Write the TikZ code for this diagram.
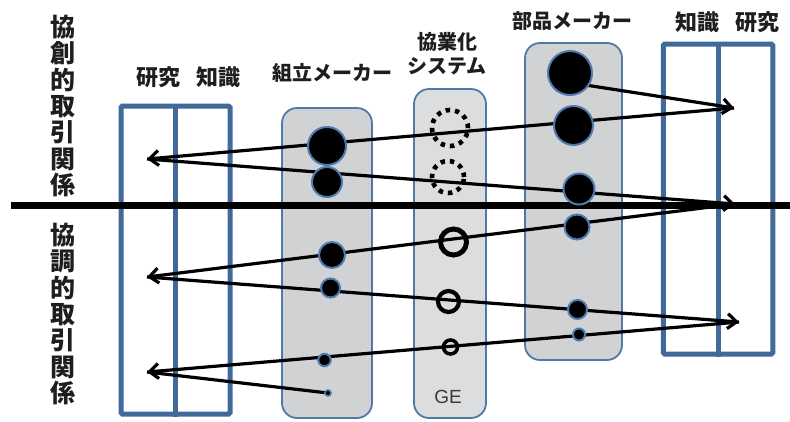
\documentclass[tikz,border=0pt]{standalone}
\usepackage{fontspec}
\newfontfamily\jp{Noto Sans CJK JP}
\setsansfont{Liberation Sans}
\usetikzlibrary{arrows.meta,calc}

\definecolor{frameblue}{HTML}{41699A}
\definecolor{panelblue}{HTML}{5079A8}
\definecolor{ringblue}{HTML}{4F7BAE}
\definecolor{panelgray}{HTML}{D1D2D4}
\definecolor{gepanel}{HTML}{DCDDDF}
\definecolor{inkdark}{HTML}{1E1E1E}
\definecolor{gegray}{HTML}{3A3A3A}

\pgfdeclarelayer{panels}
\pgfdeclarelayer{links}
\pgfsetlayers{panels,links,main}

\begin{document}
\begin{tikzpicture}[x=1pt,y=-1pt,
  framebox/.style={rectangle, draw=frameblue, line width=5pt, rounded corners=1.5pt, inner sep=0pt},
  divider/.style={draw=frameblue, line width=5pt},
  panel/.style={rectangle, draw=panelblue, line width=1.8pt, fill=panelgray, rounded corners=15pt, inner sep=0pt},
  blob/.style={circle, fill=black, draw=ringblue, line width=2pt, inner sep=0pt},
  ring/.style={circle, draw=black, inner sep=0pt},
  dashring/.style={circle, draw=black, line width=4.6pt, dash pattern=on 4.4pt off 5pt, inner sep=0pt},
  link/.style={draw=black, line width=3.2pt, -{Straight Barb[length=9pt,width=15pt]}},
  plainlink/.style={draw=black, line width=3.2pt},
  head/.style={text=inkdark, inner sep=0pt, font=\jp\bfseries\fontsize{20}{24}\selectfont},
  colhead/.style={text=inkdark, inner sep=0pt, font=\jp\bfseries\fontsize{22}{24}\selectfont},
  sidetext/.style={text=inkdark, inner sep=0pt, align=center, font=\jp\bfseries\fontsize{25}{26.3}\selectfont}
]
\useasboundingbox (0,0) rectangle (790,421);

% ---- containers ----
\begin{pgfonlayer}{panels}
  \node[framebox, minimum width=109pt, minimum height=308pt] (lbox) at (175.5,260) {};
  \draw[divider] (lbox.north) -- (lbox.south);
  \node[framebox, minimum width=109.5pt, minimum height=310pt] (rbox) at (718,199) {};
  \draw[divider] (rbox.north) -- (rbox.south);
  \node[panel, minimum width=90pt, minimum height=310pt] (asm) at (327,263) {};
  \node[panel, fill=gepanel, minimum width=72pt, minimum height=329pt] (ge) at (450,253.5) {};
  \node[panel, minimum width=97pt, minimum height=317pt] (parts) at (573.5,201.5) {};
\end{pgfonlayer}

% ---- headings ----
\node[sidetext] (upper) at (63,106) {協\\創\\的\\取\\引\\関\\係};
\node[sidetext] (lower) at (63,314) {協\\調\\的\\取\\引\\関\\係};
\node[colhead] (lres) at (158,77) {研究};
\node[colhead] (lknow) at (218,77) {知識};
\node[head] (asmhead) at (332,73) {組立メーカー};
\node[head] (gehead1) at (447,42) {協業化};
\node[head] (gehead2) at (447,66) {システム};
\node[head] (partshead) at (572,21) {部品メーカー};
\node[colhead] (rknow) at (697,22) {知識};
\node[colhead] (rres) at (757,22) {研究};
\node[text=gegray, inner sep=0pt, font=\sffamily\fontsize{19}{21}\selectfont] (gelabel) at (448,397) {GE};

% ---- assembler circles ----
\node[blob, minimum size=38pt] (m1) at (327,146) {};
\node[blob, minimum size=30pt] (m2) at (327,182) {};
\node[blob, minimum size=26pt] (m3) at (332,255) {};
\node[blob, minimum size=19pt] (m4) at (330.5,288) {};
\node[blob, minimum size=12.5pt] (m5) at (324.5,360) {};
\node[blob, line width=1.6pt, minimum size=6pt] (m6) at (328,393) {};

% ---- GE circles ----
\node[dashring, minimum size=36pt] (g1) at (450,128) {};
\node[dashring, minimum size=32pt] (g2) at (448,177) {};
\node[ring, line width=5pt, minimum size=26pt] (g3) at (453.5,242) {};
\node[ring, line width=4.2pt, minimum size=21pt] (g4) at (448.5,301.5) {};
\node[ring, line width=3.6pt, minimum size=14pt] (g5) at (450.5,347) {};

% ---- parts maker circles ----
\node[blob, minimum size=44pt] (p1) at (570,73) {};
\node[blob, minimum size=39pt] (p2) at (573.5,125.5) {};
\node[blob, minimum size=31pt] (p3) at (579,189) {};
\node[blob, minimum size=25pt] (p4) at (577,227) {};
\node[blob, minimum size=19pt] (p5) at (577.5,309.5) {};
\node[blob, minimum size=12pt] (p6) at (579,334.5) {};

% ---- turning points of the zig-zag ----
\coordinate (S) at (566,82);
\coordinate (R1) at (734,108);
\coordinate (L1) at (147,159);
\coordinate (R2) at (735,204);
\coordinate (L2) at (147,277);
\coordinate (R3) at (739,322);
\coordinate (L3) at (147,372);
\coordinate (axisL) at (11,205);
\coordinate (axisR) at (790,205);

\begin{pgfonlayer}{links}
  \draw[link] (S) -- (R1);
  \draw[link] (R1) -- (L1);
  \draw[link] (L1) -- (R2);
  \draw[link] (R2) -- (L2);
  \draw[link] (L2) -- (R3);
  \draw[link] (R3) -- (L3);
  \draw[plainlink] (L3) -- (m6.center);
  \draw[line width=7pt] (axisL) -- (axisR);
\end{pgfonlayer}
\end{tikzpicture}
\end{document}
